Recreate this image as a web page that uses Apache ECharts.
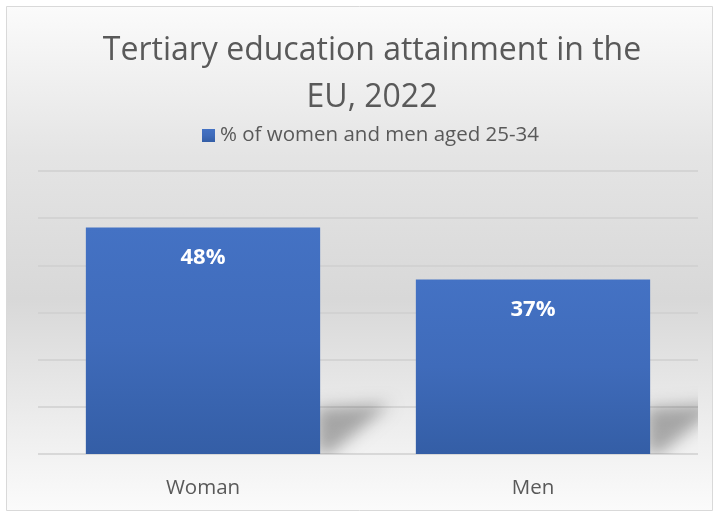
<!DOCTYPE html>
<html>
<head>
<meta charset="utf-8">
<script src="https://cdn.jsdelivr.net/npm/echarts@6/dist/echarts.min.js"></script>
<style>
  html, body { margin: 0; padding: 0; background: #ffffff; }
  #chart { width: 715px; height: 511px; }
</style>
</head>
<body>
<div id="chart"></div>
<script>
// Chart data
const categories = ['Woman', 'Men'];
const seriesName = '% of women and men aged 25-34';
const values = [48, 37];

const FONT = '"Open Sans", Lato, sans-serif';
const TEXT_GREY = '#595959';
const BAR_RATIO = 0.71;
const SHIFT = 2000; // shape drawn off-canvas so only its blurred shadow shows

const chart = echarts.init(document.getElementById('chart'), null, { renderer: 'canvas' });

// Soft floor shadow lying to the right of each bar
function renderShadow(params, api) {
  const base = api.coord([api.value(0), 0]);
  const band = api.size([1, 0])[0];
  const xr = base[0] + band * BAR_RATIO / 2;
  const y0 = base[1];
  return {
    type: 'polygon',
    shape: {
      points: [
        [xr - SHIFT - 4, y0 - 46],
        [xr - SHIFT + 70, y0 - 50],
        [xr - SHIFT + 10, y0],
        [xr - SHIFT - 4, y0]
      ]
    },
    style: {
      fill: '#000',
      shadowBlur: 16,
      shadowOffsetX: SHIFT,
      shadowColor: 'rgba(0,0,0,0.30)'
    }
  };
}

chart.setOption({
  animation: false,
  graphic: [{
    type: 'rect',
    z: -10,
    silent: true,
    shape: { x: 6.5, y: 6.5, width: 706, height: 504 },
    style: {
      fill: new echarts.graphic.LinearGradient(0, 0, 0, 1, [
        { offset: 0, color: '#fbfbfb' },
        { offset: 0.3, color: '#e4e4e4' },
        { offset: 0.58, color: '#d8d8d8' },
        { offset: 0.85, color: '#efefef' },
        { offset: 1, color: '#fbfbfb' }
      ]),
      stroke: '#d9d9d9',
      lineWidth: 1
    }
  }],
  title: {
    text: 'Tertiary education attainment in the\nEU, 2022',
    left: 367,
    textAlign: 'center',
    top: 22,
    textStyle: {
      fontFamily: FONT,
      fontSize: 32,
      fontWeight: 'normal',
      color: TEXT_GREY,
      lineHeight: 47
    }
  },
  legend: {
    data: [seriesName],
    top: 120,
    left: 197,
    icon: 'rect',
    itemWidth: 13,
    itemHeight: 13,
    itemGap: 6,
    textStyle: { fontFamily: FONT, fontSize: 20.5, color: TEXT_GREY }
  },
  grid: { left: 38, right: 17, top: 171, bottom: 57 },
  xAxis: {
    type: 'category',
    data: categories,
    axisLine: { show: false },
    axisTick: { show: false },
    axisLabel: { fontFamily: FONT, fontSize: 20.5, color: TEXT_GREY, margin: 24 }
  },
  yAxis: {
    type: 'value',
    min: 0,
    max: 60,
    interval: 10,
    axisLabel: { show: false },
    axisLine: { show: false },
    axisTick: { show: false },
    splitLine: { lineStyle: { color: '#cfcfcf', width: 1.5 } }
  },
  series: [
    {
      type: 'custom',
      name: 'shadow',
      z: 1,
      silent: true,
      clip: true,
      renderItem: renderShadow,
      data: values.map((v, i) => [i, v]),
      encode: { x: 0, y: 1 }
    },
    {
      type: 'bar',
      name: seriesName,
      z: 3,
      data: values,
      barWidth: (BAR_RATIO * 100) + '%',
      itemStyle: {
        color: new echarts.graphic.LinearGradient(0, 0, 0, 1, [
          { offset: 0, color: '#4472c4' },
          { offset: 0.5, color: '#3f6bba' },
          { offset: 1, color: '#345ea6' }
        ])
      },
      label: {
        show: true,
        position: 'insideTop',
        distance: 19,
        formatter: '{c}%',
        fontFamily: FONT,
        fontSize: 22,
        fontWeight: 'bold',
        color: '#ffffff'
      }
    }
  ]
});
</script>
</body>
</html>
